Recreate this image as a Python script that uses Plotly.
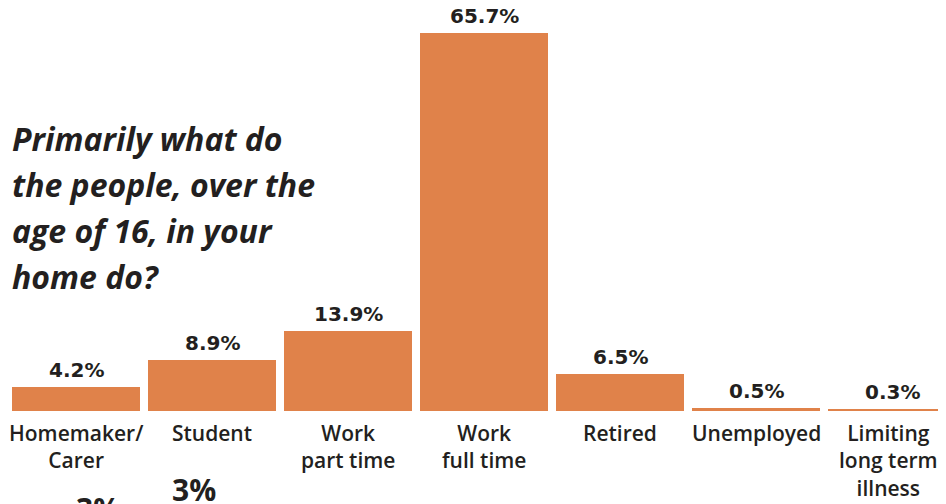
import plotly.graph_objects as go

categories = ["Homemaker/<br>Carer", "Student", "Work<br>part time", "Work<br>full time",
              "Retired", "Unemployed", "Limiting<br>long term<br>illness"]
values = [4.2, 8.9, 13.9, 65.7, 6.5, 0.5, 0.3]
value_labels = ["4.2%", "8.9%", "13.9%", "65.7%", "6.5%", "0.5%", "0.3%"]
title_lines = ["Primarily what do", "the people, over the", "age of 16, in your", "home do?"]
fragment_labels = ["3%", "3%"]

W, H = 946, 504
OFF = 8            # page body margin: figure is drawn 8px right/down in the window
BASE = 411         # baseline row in window pixels
PLOT_BOTTOM = BASE - OFF
PX_PER_UNIT = (411 - 33) / 65.7
ORANGE = "#E0824A"
DARK = "#231F20"
FONT = "Open Sans"


def py(p):
    """window pixel row -> paper y"""
    return (PLOT_BOTTOM - (p - OFF)) / PLOT_BOTTOM


def px(p):
    """window pixel column -> paper x"""
    return (p - OFF) / W


xs = list(range(len(categories)))

fig = go.Figure()
fig.add_trace(go.Bar(x=xs, y=values, width=0.94, marker=dict(color=ORANGE, line=dict(width=0)),
                     hoverinfo="skip"))

ann = []
for i, (v, t) in enumerate(zip(values, value_labels)):
    ann.append(dict(x=i, y=v, xref="x", yref="y", text=t, showarrow=False,
                    yanchor="bottom", yshift=3,
                    font=dict(family="DejaVu Sans", size=20, color=DARK, weight="bold")))
for i, c in enumerate(categories):
    ann.append(dict(x=i, y=py(417), xref="x", yref="paper", text=c, showarrow=False,
                    yanchor="top", align="center", xshift=-4 if i == len(categories) - 1 else 0,
                    font=dict(family=FONT, size=21, color=DARK, weight=600)))
for k, line in enumerate(title_lines):
    ann.append(dict(x=px(10), y=py(138 + 46.3 * k), xref="paper", yref="paper", text=line,
                    showarrow=False, xanchor="left", yanchor="middle",
                    font=dict(family=FONT, size=32, color=DARK, weight="bold", style="italic")))
frag_pos = [(98, 508), (194, 489)]
for (fx, fy), t in zip(frag_pos, fragment_labels):
    ann.append(dict(x=px(fx), y=py(fy), xref="paper", yref="paper", text=t, showarrow=False,
                    xanchor="center", yanchor="middle",
                    font=dict(family=FONT, size=30, color=DARK, weight="bold")))

fig.update_layout(
    width=W, height=H,
    margin=dict(l=0, r=0, t=0, b=H - PLOT_BOTTOM),
    plot_bgcolor="white", paper_bgcolor="white",
    showlegend=False,
    bargap=0,
    xaxis=dict(domain=[0, 1], range=[-0.5, -0.5 + W / 136.0], showticklabels=False,
               showgrid=False, zeroline=False, showline=False, ticks=""),
    yaxis=dict(range=[0, PLOT_BOTTOM / PX_PER_UNIT], showticklabels=False, showgrid=False,
               zeroline=False, showline=False, ticks=""),
    annotations=ann,
)

fig.write_html("out.html")
